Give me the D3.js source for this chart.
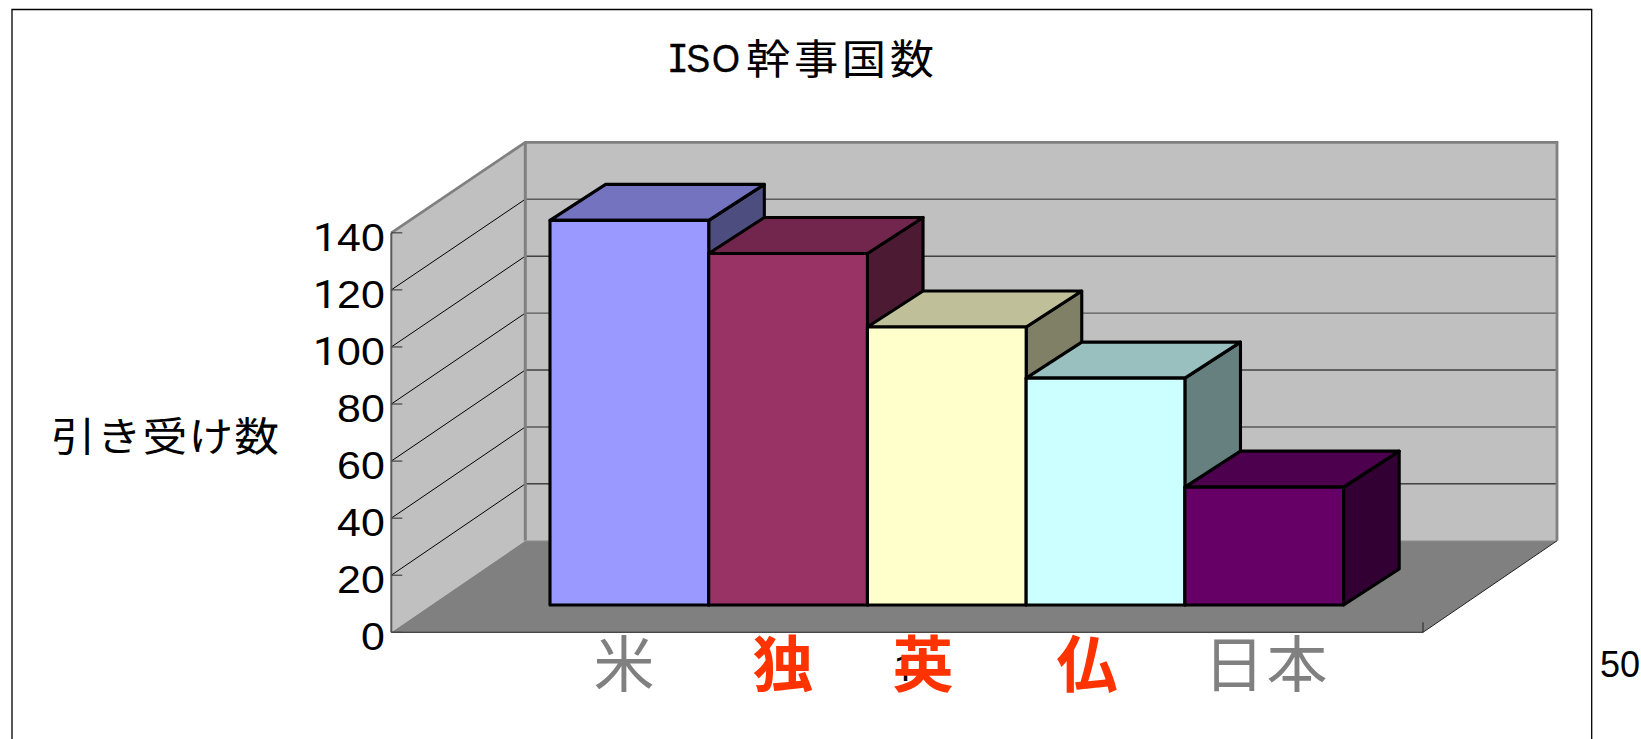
<!DOCTYPE html>
<html lang="ja">
<head>
<meta charset="utf-8">
<style>
@font-face{font-family:"FootlessOne";src:local("Roboto");unicode-range:U+31}
@font-face{font-family:"SerifI";src:local("DejaVu Sans Mono");unicode-range:U+49}
html,body{margin:0;padding:0;background:#fff;overflow:hidden}
svg{display:block}
text{font-family:"Noto Sans CJK JP","Liberation Sans",sans-serif}
.num{font-family:"FootlessOne","Liberation Sans",Arial,sans-serif !important}
.latin{font-family:"SerifI","Liberation Sans",Arial,sans-serif !important}
</style>
<script src="https://cdn.jsdelivr.net/npm/d3@7"></script>
</head>
<body>
<svg id="c" width="1641" height="739"></svg>
<script>
const categories = ["米","独","英","仏","日本"];
const values = [134.8, 123.2, 97.4, 79.5, 41.3];
const frontColors = ["#9999FF","#993366","#FFFFCC","#CCFFFF","#660066"];
const labelColors = ["#808080","#FF3300","#FF3300","#FF3300","#808080"];
const labelWeights = [400,700,700,700,400];
const yTicks = [0,20,40,60,80,100,120,140];
const titleLatin = "ISO";
const titleKanji = "幹事国数";
const yTitle = "引き受け数";

const W = 1641, H = 739;
const svg = d3.select("#c");

// scales: the same value axis on the three depth planes
const yWall = d3.scaleLinear().domain([0,140]).range([632.3,232.8]);
const yBack = d3.scaleLinear().domain([0,140]).range([540.8,142.3]);
const yBar  = d3.scaleLinear().domain([0,140]).range([605,205.5]);
const xBar  = d3.scaleBand().domain(categories).range([550,1343.6]).padding(0);

const wall = {x0:391.3, x1:1423, dx:134, dy:-91.5};
const barDepth = {dx:55.6, dy:-36};
const line = d3.line();

// frame
svg.append("path").attr("d",line([[12,H+2],[12,9.5],[1591.7,9.5],[1591.7,H+2]]))
  .attr("fill","none").attr("stroke","#000").attr("stroke-width",1.3);

// walls and floor
const bx0 = wall.x0+wall.dx, bx1 = wall.x1+wall.dx;
svg.append("path").attr("d",line([[bx0,yBack(140)],[bx1,yBack(140)],[bx1,yBack(0)],[bx0,yBack(0)]])+"Z").attr("fill","#C0C0C0");
svg.append("path").attr("d",line([[wall.x0,yWall(140)],[bx0,yBack(140)],[bx0,yBack(0)],[wall.x0,yWall(0)]])+"Z").attr("fill","#C0C0C0");
svg.append("path").attr("d",line([[wall.x0,yWall(0)],[bx0,yBack(0)],[bx1,yBack(0)],[wall.x1,yWall(0)]])+"Z").attr("fill","#808080");

// gridlines
const grid = yTicks.filter(t=>t>0&&t<140);
svg.append("g").selectAll("line").data(grid).join("line")
  .attr("x1",bx0).attr("x2",bx1).attr("y1",d=>yBack(d)).attr("y2",d=>yBack(d))
  .attr("stroke",d=>d%40===0?"#5a5a5a":"#000")
  .attr("stroke-width",d=>d%40===0?1.4:1);
svg.append("g").selectAll("line").data(grid).join("line")
  .attr("x1",wall.x0).attr("x2",bx0).attr("y1",d=>yWall(d)).attr("y2",d=>yBack(d))
  .attr("stroke","#000").attr("stroke-width",1);

// wall borders
svg.append("path").attr("d",line([[wall.x0,yWall(140)],[bx0,yBack(140)],[bx1,yBack(140)],[bx1,yBack(0)]]))
  .attr("fill","none").attr("stroke","#808080").attr("stroke-width",2.8);
svg.append("path").attr("d",line([[bx0,yBack(140)],[bx0,yBack(0)]]))
  .attr("fill","none").attr("stroke","#808080").attr("stroke-width",3);
svg.append("path").attr("d",line([[bx0,yBack(0)],[bx1,yBack(0)]]))
  .attr("fill","none").attr("stroke","#9a9a9a").attr("stroke-width",1);
svg.append("path").attr("d",line([[wall.x0,yWall(140)],[wall.x0,yWall(0)]]))
  .attr("fill","none").attr("stroke","#5a5a5a").attr("stroke-width",2);
svg.append("path").attr("d",line([[wall.x0,yWall(0)],[wall.x1,yWall(0)],[bx1,yBack(0)]]))
  .attr("fill","none").attr("stroke","#222").attr("stroke-width",1);
svg.append("line").attr("x1",wall.x1).attr("x2",wall.x1).attr("y1",yWall(0)).attr("y2",yWall(0)-10)
  .attr("stroke","#222").attr("stroke-width",1);

// value axis; labels are stretched horizontally as in the picture
const stretch = 1.1;
const axis = d3.axisLeft(yWall).tickValues(yTicks).tickSize(0).tickPadding(7);
const ax = svg.append("g").attr("transform",`translate(${wall.x0},0)`).call(axis);
ax.select(".domain").remove();
ax.selectAll("text").attr("class","num").attr("font-size",39).attr("dy","0.45em")
  .attr("x",-6.5/stretch).attr("transform",`scale(${stretch},1)`).attr("fill","#000");
svg.append("g").selectAll("line").data(yTicks).join("line")
  .attr("x1",wall.x0).attr("x2",wall.x0+11).attr("y1",d=>yWall(d)).attr("y2",d=>yWall(d))
  .attr("stroke","#444").attr("stroke-width",1.2);

// bars, left to right so that each covers the side of the one before
const shade = (c,k)=>{const r=d3.rgb(c);return d3.rgb(r.r*k,r.g*k,r.b*k).formatHex();};
const bars = svg.append("g").selectAll("g").data(categories).join("g");
const dx = barDepth.dx, dy = barDepth.dy;
bars.each(function(cat,i){
  const g = d3.select(this);
  const x0 = xBar(cat), x1 = x0+xBar.bandwidth(), yt = yBar(values[i]), yb = yBar(0);
  const common = s=>s.attr("stroke","#000").attr("stroke-width",3.1).attr("stroke-linejoin","round");
  common(g.append("path").attr("d",line([[x1,yt],[x1+dx,yt+dy],[x1+dx,yb+dy],[x1,yb]])+"Z").attr("fill",shade(frontColors[i],0.5)));
  common(g.append("path").attr("d",line([[x0,yt],[x0+dx,yt+dy],[x1+dx,yt+dy],[x1,yt]])+"Z").attr("fill",shade(frontColors[i],0.75)));
  common(g.append("rect").attr("x",x0).attr("y",yt).attr("width",x1-x0).attr("height",yb-yt).attr("fill",frontColors[i]));
});

// leftover category tick label hidden behind 英
svg.append("text").attr("class","num").attr("x",904.5).attr("y",681).attr("text-anchor","middle")
  .attr("font-size",37).text("1");

// category labels (text boxes laid over the axis)
const labelCenters = [624,783,923,1087,1266.5];
svg.append("g").selectAll("text").data(categories).join("text")
  .attr("x",(d,i)=>labelCenters[i]).attr("y",687).attr("text-anchor","middle")
  .attr("font-size",61).attr("font-weight",(d,i)=>labelWeights[i])
  .attr("letter-spacing",(d,i)=>i===4?2:0)
  .attr("fill",(d,i)=>labelColors[i]).text(d=>d);

// titles
svg.append("text").attr("class","latin").attr("transform","translate(667,72) scale(0.92,1)")
  .attr("font-size",39).attr("x","0 21 49").attr("fill","#000").attr("stroke","#000").attr("stroke-width",0.4).text(titleLatin);
svg.append("text").attr("transform","translate(746,74) scale(1.08,1)")
  .attr("font-size",41).attr("letter-spacing",3.4).attr("fill","#000").text(titleKanji);
svg.append("text").attr("transform","translate(165.5,451) scale(1.12,1)").attr("text-anchor","middle")
  .attr("font-size",40).attr("letter-spacing",1).attr("fill","#000").text(yTitle);

// stray number at right edge
svg.append("text").attr("x",1600).attr("y",677).attr("font-size",36)
  .style("font-family",'"Liberation Sans",Arial,sans-serif').text("50");
</script>
</body>
</html>
